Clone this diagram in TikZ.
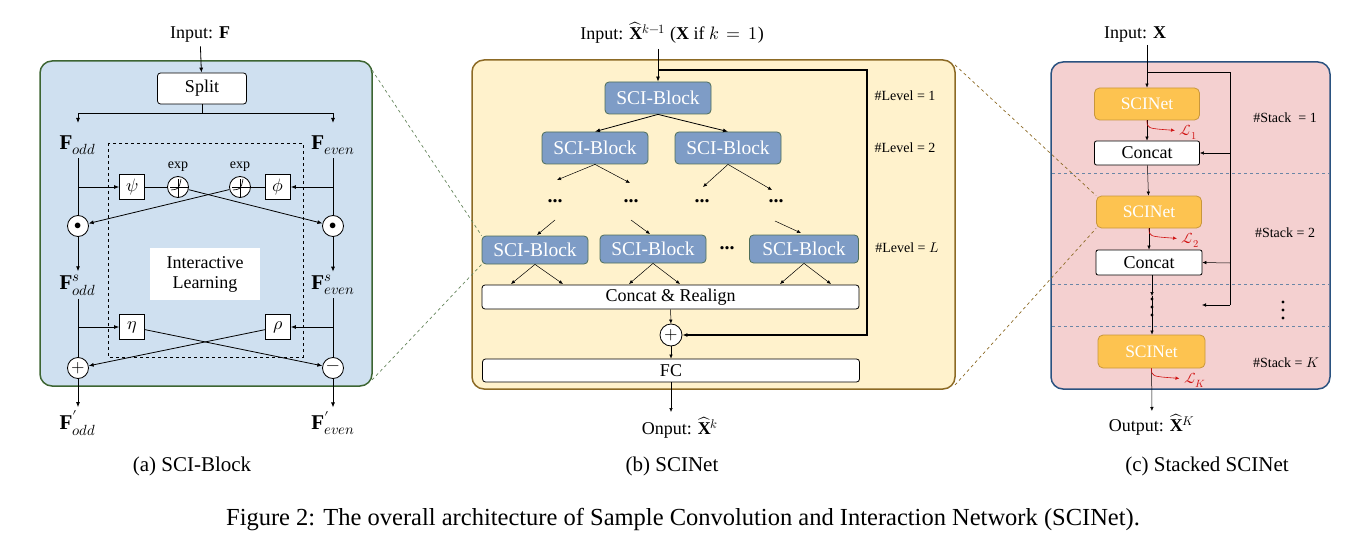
\documentclass[tikz,border=0pt]{standalone}
\usepackage{unicode-math}
\setmainfont{Liberation Serif}
\setmathfont{Latin Modern Math}
\usetikzlibrary{arrows.meta}
\definecolor{pa}{HTML}{CFE0F0}\definecolor{pab}{HTML}{3D6532}
\definecolor{pb}{HTML}{FFF2CC}\definecolor{pbb}{HTML}{8C6A25}
\definecolor{pc}{HTML}{F4D0D0}\definecolor{pcb}{HTML}{2A5280}
\definecolor{blk}{HTML}{7E9CC6}\definecolor{blkb}{HTML}{4E6E5A}
\definecolor{sci}{HTML}{FDC350}\definecolor{scib}{HTML}{C8963C}
\definecolor{lossr}{HTML}{D01010}
\begin{document}
\begin{tikzpicture}[x=1pt,y=-1pt,
 ar/.style={-{Latex[length=5pt,width=4pt]},line width=0.8pt},
 tl/.style={line width=0.8pt},
 lbl/.style={font=\fontsize{18}{20}\selectfont},
 mlbl/.style={font=\fontsize{21}{23}\selectfont},
 wbox/.style={draw,fill=white,rounded corners=3pt,line width=0.8pt,font=\fontsize{18}{20}\selectfont},
 sbox/.style={draw,fill=white,line width=0.8pt,minimum width=25pt,minimum height=25pt,inner sep=0pt,font=\fontsize{18}{20}\selectfont},
 crc/.style={draw,circle,fill=white,minimum size=21pt,inner sep=0pt,line width=0.8pt},
 blkst/.style={draw=blkb,fill=blk,rounded corners=4pt,line width=0.8pt,text=white,font=\fontsize{19.5}{21}\selectfont,minimum width=106pt,minimum height=32pt,inner sep=0pt},
 scist/.style={draw=scib,fill=sci,rounded corners=5pt,line width=0.8pt,text=white,font=\fontsize{17.5}{19}\selectfont,minimum width=105pt,minimum height=32pt,inner sep=0pt},
 small/.style={font=\fontsize{14}{16}\selectfont},
 dots/.style={font=\fontsize{20}{22}\selectfont\bfseries},
 vdot/.style={circle,fill=black,inner sep=0pt,minimum size=3.2pt},
 sar/.style={-{Latex[length=4pt,width=3.5pt]},line width=0.5pt}]
\useasboundingbox (0,0) rectangle (1360,559);
% ===== Panel a =====
\node[draw=pab,fill=pa,line width=1.5pt,rounded corners=12pt,minimum width=332pt,minimum height=325pt,inner sep=0pt] (pA) at (206,223.5) {};
\node[lbl] (inA) at (200,35) {Input: $\mathbf{F}$};
\node[wbox,minimum width=89pt,minimum height=31pt,inner sep=0pt] (split) at (202,88.5) {Split};
\draw[ar] (inA) -- (split);
\draw[dashed,line width=0.7pt] (108,143) rectangle (303,357);
\node[mlbl] (fo) at (78,145) {$\mathbf{F}_{odd}$};
\node[mlbl] (fe) at (333,145) {$\mathbf{F}_{even}$};
\coordinate (sp) at (202,113);
\draw[tl] (split) -- (sp);
\draw[ar] (sp) -| (78,123);
\draw[ar] (sp) -| (333,123);
\node[crc] (m1) at (78,226) {\Large$\bullet$};
\node[crc] (m2) at (333,226) {\Large$\bullet$};
\node[sbox] (psi) at (132,187) {$\psi$};
\node[sbox] (phi) at (278,187) {$\phi$};
\node[crc] (e1) at (178,187) {};
\node[crc] (e2) at (240,187) {};
\foreach \e in {e1,e2}{\draw[line width=0.6pt] ([yshift=-3pt]\e.north)--(\e.south) ([xshift=3pt]\e.west)--(\e.east);
 \draw[line width=0.6pt] ([xshift=-7pt,yshift=-3pt]\e.center) .. controls ([xshift=1pt,yshift=-2pt]\e.center) .. ([xshift=3pt,yshift=8pt]\e.center);
 \node[small,anchor=south] at ([yshift=1pt]\e.north) {exp};}
\draw[tl] (fo) -- (m1);
\draw[tl] (fe) -- (m2);
\draw[ar] (78,187) -- (psi);
\draw[ar] (333,187) -- (phi);
\draw[tl] (psi) -- (e1);
\draw[tl] (phi) -- (e2);
\draw[ar] (e1) -- (m2);
\draw[ar] (e2) -- (m1);
\node[fill=white,minimum width=110pt,minimum height=52pt,align=center,lbl] (il) at (205,274) {Interactive\\Learning};
\node[mlbl] (so) at (78,285) {$\mathbf{F}^{s}_{odd}$};
\node[mlbl] (se) at (333,285) {$\mathbf{F}^{s}_{even}$};
\draw[ar] (m1) -- (so);
\draw[ar] (m2) -- (se);
\node[crc] (pl) at (78,368) {\LARGE$+$};
\node[crc] (mi) at (333,368) {\LARGE$-$};
\node[sbox] (eta) at (132,327) {$\eta$};
\node[sbox] (rho) at (278,327) {$\rho$};
\draw[tl] (so) -- (pl);
\draw[tl] (se) -- (mi);
\draw[ar] (78,327) -- (eta);
\draw[ar] (333,327) -- (rho);
\draw[ar] (eta) -- (mi);
\draw[ar] (rho) -- (pl);
\node[mlbl] (po) at (78,423) {$\mathbf{F}^{\prime}_{odd}$};
\node[mlbl] (pe) at (333,423) {$\mathbf{F}^{\prime}_{even}$};
\draw[ar] (pl) -- (po);
\draw[ar] (mi) -- (pe);
% ===== Panel b =====
\node[draw=pbb,fill=pb,line width=1.5pt,rounded corners=12pt,minimum width=483pt,minimum height=329pt,inner sep=0pt] (pB) at (713.5,224.5) {};
\node[lbl] (inB) at (672,33) {Input: $\widehat{\mathbf{X}}^{k-1}$ ($\mathbf{X}$ if $k\,=\,1$)};
\node[blkst] (b1) at (658,98) {SCI-Block};
\node[blkst] (b21) at (595,148) {SCI-Block};
\node[blkst] (b22) at (728,148) {SCI-Block};
\node[blkst,minimum height=28pt] (bl1) at (535,250) {SCI-Block};
\node[blkst,minimum height=28pt] (bl2) at (653,249) {SCI-Block};
\node[blkst,minimum height=28pt,minimum width=109pt] (bl3) at (804,249) {SCI-Block};
\node[dots] (dd) at (727,248) {...};
\draw[ar] (658,49) -- (b1);
\coordinate (fb) at (658,70);
\coordinate (fbr) at (867,70);
\draw[ar] (b1.south) -- (b21.north);
\draw[ar] (b1.south) -- (b22.north);
\foreach \x/\n in {555/d1,631/d2,702/d3,776/d4}{\node[dots] (\n) at (\x,201) {...};}
\draw[sar] (b21.south) -- (557,180);
\draw[sar] (b21.south) -- (630,183);
\draw[sar] (b22.south) -- (703,187);
\draw[sar] (b22.south) -- (772,190);
\draw[sar] (555,220) -- (537,235);
\draw[sar] (631,220) -- (650,234);
\draw[sar] (775,221) -- (801,233);
\node[wbox,minimum width=377pt,minimum height=24pt,inner sep=0pt] (cr) at (670.5,297) {Concat \& Realign};
\foreach \b/\l/\r in {bl1/511/563,bl2/629/680,bl3/780/831}{
 \draw[sar] (\b.south) -- (\l,284); \draw[sar] (\b.south) -- (\r,284);}
\node[crc,minimum size=22pt] (ob) at (671,335) {\LARGE$+$};
\draw[sar] (cr) -- (ob);
\draw[line width=1.3pt,-{Latex[length=5pt,width=4pt]}] (fb) -- (fbr) |- (ob);
\node[wbox,minimum width=377pt,minimum height=23pt,inner sep=0pt] (fc) at (671,370.5) {FC};
\draw[sar] (ob) -- (fc);
\node[lbl] (outB) at (680,428) {Onput: $\widehat{\mathbf{X}}^{k}$};
\draw[sar] (fc) -- (671,412);
\node[small] at (905,96) {\#Level = 1};
\node[small] at (905,148) {\#Level = 2};
\node[small] at (907,248) {\#Level = $L$};
% ===== Panel c =====
\node[draw=pcb,fill=pc,line width=1.5pt,rounded corners=12pt,minimum width=279pt,minimum height=327pt,inner sep=0pt] (pC) at (1190.5,225.5) {};
\foreach \y in {173,284,326}{\draw[dashed,draw=pcb!70,line width=0.8pt] (1052,\y) -- (1329,\y);}
\node[lbl] (inC) at (1135,35) {Input: $\mathbf{X}$};
\node[scist] (s1) at (1147,104) {SCINet};
\node[wbox,minimum width=105pt,minimum height=24pt,inner sep=0pt,rounded corners=2pt] (c1) at (1147,153) {Concat};
\node[scist] (s2) at (1149,212) {SCINet};
\node[wbox,minimum width=106pt,minimum height=25pt,inner sep=0pt,rounded corners=2pt] (c2) at (1149,262.5) {Concat};
\node[scist,minimum width=107pt,minimum height=33pt] (s3) at (1151.5,351.5) {SCINet};
\draw[sar] (1147,45) -- (s1);
\draw[sar] (s1) -- (c1);
\draw[sar] (c1) -- (s2);
\draw[sar] (s2) -- (c2);
\coordinate (vm) at (1152,296);
\draw[sar] (c2.south -| vm) -- (vm);
\draw[sar] (vm) -- (s3.north -| vm);
\foreach \yy in {299,307,315}{\node[vdot] at (1152,\yy) {};}
\foreach \yy in {302,310,318}{\node[vdot] at (1283,\yy) {};}
\node[lbl] (outC) at (1152,425) {Output: $\widehat{\mathbf{X}}^{K}$};
\draw[sar] (s3) -- (outC);
\coordinate (fc0) at (1147,72);
\coordinate (fc1) at (1230,72);
\coordinate (fc2) at (1230,305);
\draw[line width=0.6pt] (fc0) -- (fc1) -- (fc2);
\draw[sar] (1230,153) -- (c1.east);
\draw[sar] (1230,263) -- (c2.east);
\draw[sar] (fc2) -- (1202,305);
\foreach \s/\k in {s1/1,s2/2,s3/K}{
 \draw[lossr,line width=0.6pt,-{Latex[length=4pt,width=3.5pt]}] (\s.south) .. controls ([yshift=-8pt]\s.south) .. ([xshift=28pt,yshift=-10pt]\s.south);
 \node[lossr,font=\fontsize{15}{17}\selectfont,anchor=west] at ([xshift=29pt,yshift=-12pt]\s.south) {$\mathcal{L}_{\k}$};}
\node[small] at (1285,118) {\#Stack \ = 1};
\node[small] at (1285,233) {\#Stack = 2};
\node[small] at (1286,363) {\#Stack = $K$};
% ===== zoom lines =====
\draw[dashed,draw=pab!80,line width=0.7pt] (372,70) -- (bl1.north west);
\draw[dashed,draw=pab!80,line width=0.7pt] (372,380) -- (bl1.south west);
\draw[dashed,draw=pbb,line width=0.7pt] (955,65) -- (s2.north west);
\draw[dashed,draw=pbb,line width=0.7pt] (955,385) -- (s2.south west);
% ===== captions =====
\node[font=\fontsize{21}{23}\selectfont] at (192,466) {(a) SCI-Block};
\node[font=\fontsize{21}{23}\selectfont] at (672,466) {(b) SCINet};
\node[font=\fontsize{21}{23}\selectfont] at (1207,466) {(c) Stacked SCINet};
\node[font=\fontsize{24.5}{26}\selectfont] at (683,520) {Figure 2: The overall architecture of Sample Convolution and Interaction Network (SCINet).};
\end{tikzpicture}
\end{document}
